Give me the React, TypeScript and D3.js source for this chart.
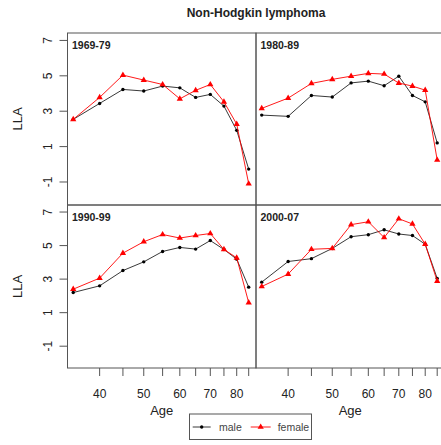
import React from "react";
import * as d3 from "d3";

const ages = [35, 40, 45, 50, 55, 60, 65, 70, 75, 80, 85];
const tickAges = [40, 45, 50, 55, 60, 65, 70, 75, 80, 85];
const labelAges = [40, 50, 60, 70, 80];
const yTicks = [7, 5, 3, 1, -1];
const periods = ["1969-79", "1980-89", "1990-99", "2000-07"];

const male6979 = [2.54, 3.44, 4.23, 4.14, 4.42, 4.32, 3.78, 3.95, 3.29, 1.92, -0.27];
const female6979 = [2.54, 3.78, 5.04, 4.76, 4.51, 3.7, 4.18, 4.51, 3.53, 2.27, -1.1];
const male8089 = [2.78, 2.71, 3.89, 3.8, 4.6, 4.7, 4.44, 4.98, 3.89, 3.53, 1.21];
const female8089 = [3.16, 3.74, 4.57, 4.8, 4.98, 5.14, 5.1, 4.59, 4.42, 4.19, 0.24];
const male9099 = [2.2, 2.6, 3.51, 4.03, 4.65, 4.89, 4.79, 5.3, 4.77, 4.19, 2.52];
const female9099 = [2.4, 3.06, 4.55, 5.23, 5.66, 5.45, 5.6, 5.72, 4.77, 4.27, 1.6];
const male0007 = [2.82, 4.05, 4.22, 4.83, 5.53, 5.65, 5.94, 5.69, 5.6, 5.08, 3.04];
const female0007 = [2.56, 3.3, 4.78, 4.83, 6.25, 6.42, 5.48, 6.6, 6.29, 5.08, 2.88];

const maleSeries = [male6979, male8089, male9099, male0007];
const femaleSeries = [female6979, female8089, female9099, female0007];

const FONT = "Liberation Sans, Arial, sans-serif";
const TEXT = "#222";
const BORDER = "#555";

export default function App() {
  const W = 441;
  const H = 445;
  const colX = [67.5, 256];
  const panelW = 188.5;
  const rows = [
    { top: 33, bottom: 205 },
    { top: 205, bottom: 368 },
  ];
  const yDomain: [number, number] = [-2.3, 7.42];
  const tri = d3.symbol().type(d3.symbolTriangle).size(17)() as string;

  const panels = periods.map((p, i) => {
    const col = i % 2;
    const row = Math.floor(i / 2);
    const x0 = colX[col];
    const x = d3.scaleLog().domain([34, 88.2]).range([x0, x0 + panelW]);
    const y = d3.scaleLinear().domain(yDomain).range([rows[row].bottom, rows[row].top]);
    const line = d3
      .line<number>()
      .x((_, k) => x(ages[k]))
      .y((v) => y(v));
    const male = maleSeries[i];
    const female = femaleSeries[i];
    return (
      <g key={p}>
        <defs>
          <clipPath id={`clip${i}`}>
            <rect x={x0} y={rows[row].top} width={panelW} height={rows[row].bottom - rows[row].top} />
          </clipPath>
        </defs>
        <g clipPath={`url(#clip${i})`}>
          <path d={line(male) || ""} fill="none" stroke="#222" strokeWidth={0.9} />
          {male.map((v, k) => (
            <circle key={k} cx={x(ages[k])} cy={y(v)} r={1.7} fill="#000" />
          ))}
          <path d={line(female) || ""} fill="none" stroke="#ff0000" strokeWidth={0.9} />
          {female.map((v, k) => (
            <path key={k} d={tri} transform={`translate(${x(ages[k])},${y(v)})`} fill="#ff0000" />
          ))}
        </g>
        <rect
          x={x0}
          y={rows[row].top}
          width={panelW}
          height={rows[row].bottom - rows[row].top}
          fill="none"
          stroke={BORDER}
          strokeWidth={1}
        />
        <text x={x0 + 4.5} y={rows[row].top + 15.5} fontFamily={FONT} fontSize={10.5} fontWeight="bold" fill={TEXT}>
          {p}
        </text>
        {col === 0 &&
          yTicks.map((t) => (
            <g key={t}>
              <line x1={x0 - 8} x2={x0} y1={y(t)} y2={y(t)} stroke={BORDER} />
              <text
                transform={`translate(${x0 - 16},${y(t)}) rotate(-90)`}
                textAnchor="middle"
                fontFamily={FONT}
                fontSize={12}
                fill={TEXT}
              >
                {t}
              </text>
            </g>
          ))}
        {col === 0 && (
          <text
            transform={`translate(22,${(rows[row].top + rows[row].bottom) / 2}) rotate(-90)`}
            textAnchor="middle"
            fontFamily={FONT}
            fontSize={13}
            fill={TEXT}
          >
            LLA
          </text>
        )}
        {row === 1 && (
          <g>
            {tickAges.map((a) => (
              <line key={a} x1={x(a)} x2={x(a)} y1={rows[row].bottom} y2={rows[row].bottom + 8} stroke={BORDER} />
            ))}
            {labelAges.map((a) => (
              <text key={a} x={x(a)} y={rows[row].bottom + 30} textAnchor="middle" fontFamily={FONT} fontSize={12} fill={TEXT}>
                {a}
              </text>
            ))}
            <text x={x0 + panelW / 2} y={rows[row].bottom + 46.5} textAnchor="middle" fontFamily={FONT} fontSize={13} fill={TEXT}>
              Age
            </text>
          </g>
        )}
      </g>
    );
  });

  return (
    <svg width={W} height={H} style={{ position: "absolute", left: 0, top: 0 }}>
      <rect x={0} y={0} width={W} height={H} fill="#fff" />
      <text x={256} y={17} textAnchor="middle" fontFamily={FONT} fontSize={12} fontWeight="bold" fill={TEXT}>
        Non-Hodgkin lymphoma
      </text>
      {panels}
      <g>
        <rect x={189.5} y={414} width={122} height={25.5} fill="#fff" stroke={BORDER} strokeWidth={1} />
        <line x1={192.7} x2={210.7} y1={427} y2={427} stroke="#222" strokeWidth={0.9} />
        <circle cx={201.7} cy={427} r={1.7} fill="#000" />
        <text x={219} y={431} fontFamily={FONT} fontSize={10.5} fill="#444">
          male
        </text>
        <line x1={250.7} x2={270.7} y1={427} y2={427} stroke="#ff0000" strokeWidth={0.9} />
        <path d={tri} transform="translate(260.7,427)" fill="#ff0000" />
        <text x={277.7} y={431} fontFamily={FONT} fontSize={10.5} fill="#444">
          female
        </text>
      </g>
    </svg>
  );
}
